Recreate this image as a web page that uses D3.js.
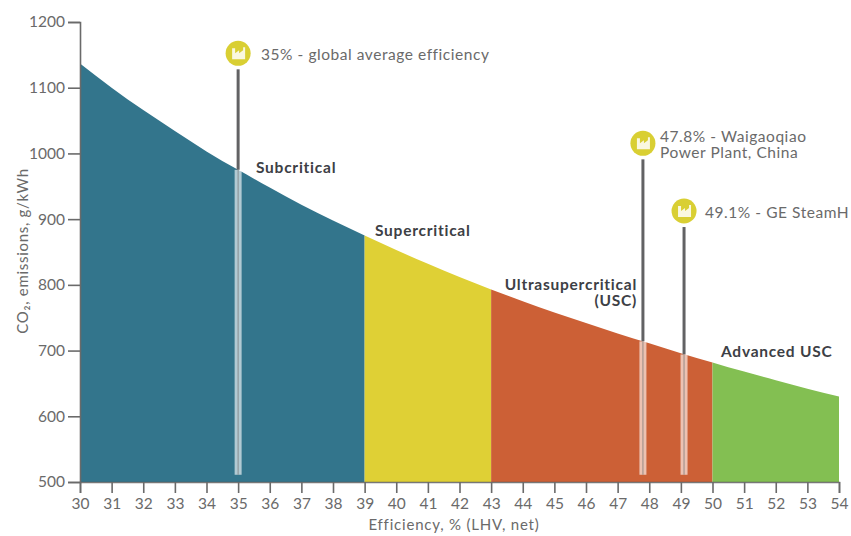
<!DOCTYPE html>
<html>
<head>
<meta charset="utf-8">
<script src="https://cdn.jsdelivr.net/npm/d3@7/dist/d3.min.js"></script>
<style>
html,body{margin:0;padding:0;background:#fff}
svg{display:block}
text{font-family:Lato,"Open Sans",sans-serif}
</style>
</head>
<body>
<svg id="chart" width="851" height="536"></svg>
<script>
// CO2 intensity of coal plant against net efficiency
const efficiency = [30,31,32,33,34,35,36,37,38,39,40,41,42,43,44,45,46,47,48,49,50,51,52,53,54];
const emissions = [1137,1100,1066,1034,1003,975,948,922,898,875,853,832,812,793,775,758,742,726,711,696,682,668,655,642,630];
const yTicks = [500,600,700,800,900,1000,1100,1200];

const bandNames = ["Subcritical","Supercritical","Ultrasupercritical","Advanced USC"];
const bandStarts = [30,39,43,50];
const bandEnds = [39,43,50,54];
const bandColors = ["#33758c","#dfd035","#cc6036","#83bf52"];

const plantEfficiency = [35,47.8,49.1];
const plantEmissions = [975,714,694];
const plantTop = [1128,991,888];
const plantLines = [["35% - global average efficiency"],["47.8% - Waigaoqiao","Power Plant, China"],["49.1% - GE SteamH"]];
const plantTextX = [261,660,705];

const svg = d3.select("#chart");
const x = d3.scaleLinear().domain([30,54]).range([80,839]);
const y = d3.scaleLinear().domain([500,1200]).range([482,22]);
const ink = "#6a6a6a";
const pairs = efficiency.map((e,i)=>({e,v:emissions[i]}));

const area = d3.area().x(d=>x(d.e)).y0(y(500)).y1(d=>y(d.v)).curve(d3.curveNatural);
bandNames.forEach((name,i)=>{
  svg.append("path")
    .attr("class","band")
    .attr("d",area(pairs.filter(d=>d.e>=bandStarts[i]&&d.e<=bandEnds[i])))
    .attr("fill",bandColors[i]);
});

// Axes
const xAxis = d3.axisBottom(x).tickValues(efficiency).tickSize(11).tickPadding(5).tickFormat(d3.format("d"));
const gx = svg.append("g").attr("transform",`translate(0,${y(500)})`).call(xAxis);
const yAxis = d3.axisLeft(y).tickValues(yTicks).tickSize(12).tickPadding(3).tickFormat(d3.format("d"));
const gy = svg.append("g").attr("transform",`translate(${x(30)},0)`).call(yAxis);
[gx,gy].forEach(g=>{
  g.selectAll("path").attr("stroke",ink).attr("stroke-width",1.6);
  g.selectAll("line").attr("stroke",ink).attr("stroke-width",1.6);
  g.selectAll("text").attr("fill",ink).attr("font-size",15.5).attr("font-family","Lato,sans-serif");
});
gx.select("path").attr("stroke","#555").attr("opacity",.8);

svg.append("text").attr("x",454).attr("y",530).attr("text-anchor","middle")
  .attr("fill",ink).attr("font-size",15).attr("letter-spacing",.8).text("Efficiency, % (LHV, net)");
svg.append("text").attr("transform","translate(28,251) rotate(-90)").attr("text-anchor","middle")
  .attr("fill",ink).attr("font-size",15).attr("letter-spacing",.7).text("CO\u2082, emissions, g/kWh");

// Plant markers: dark stem above the curve, pale stripe inside the filled area
plantEfficiency.forEach((p,i)=>{
  const px = x(p);
  svg.append("line").attr("x1",px).attr("x2",px).attr("y1",y(plantTop[i])).attr("y2",y(plantEmissions[i]))
    .attr("stroke","#626264").attr("stroke-width",3);
  svg.append("rect").attr("x",px-3.5).attr("width",7).attr("y",y(plantEmissions[i])).attr("height",y(511)-y(plantEmissions[i]))
    .attr("fill","#fff").attr("opacity",.62);
  svg.append("line").attr("x1",px).attr("x2",px).attr("y1",y(plantEmissions[i])).attr("y2",y(511))
    .attr("stroke","#777").attr("stroke-width",1.2).attr("opacity",.6);

  const cy = y(plantTop[i])-16;
  const g = svg.append("g").attr("transform",`translate(${px},${cy})`);
  g.append("circle").attr("r",12.5).attr("fill","#d9cf33");
  // small factory glyph
  g.append("path").attr("d","M-6,6V-5H-3V0L1,-3V0L5,-3V-6H7V6Z").attr("fill","#fff").attr("opacity",.85);

  const lh = 16;
  plantLines[i].forEach((t,j)=>{
    svg.append("text").attr("x",plantTextX[i]).attr("y",cy+7+(j-(plantLines[i].length-1)/2)*lh)
      .attr("fill",ink).attr("font-size",15.5).attr("letter-spacing",.55).text(t);
  });
});

// Technology labels
const dark = "#3d4045";
const labelData = [
  {t:"Subcritical",x:256,y:173,a:"start"},
  {t:"Supercritical",x:375,y:236,a:"start"},
  {t:"Ultrasupercritical",x:637,y:290,a:"end"},
  {t:"(USC)",x:637,y:306,a:"end"},
  {t:"Advanced USC",x:721,y:357,a:"start"}
];
labelData.forEach(d=>{
  svg.append("text").attr("x",d.x).attr("y",d.y).attr("text-anchor",d.a)
    .attr("fill",dark).attr("font-weight",700).attr("font-size",15.5).attr("letter-spacing",.75).text(d.t);
});
</script>
</body>
</html>
